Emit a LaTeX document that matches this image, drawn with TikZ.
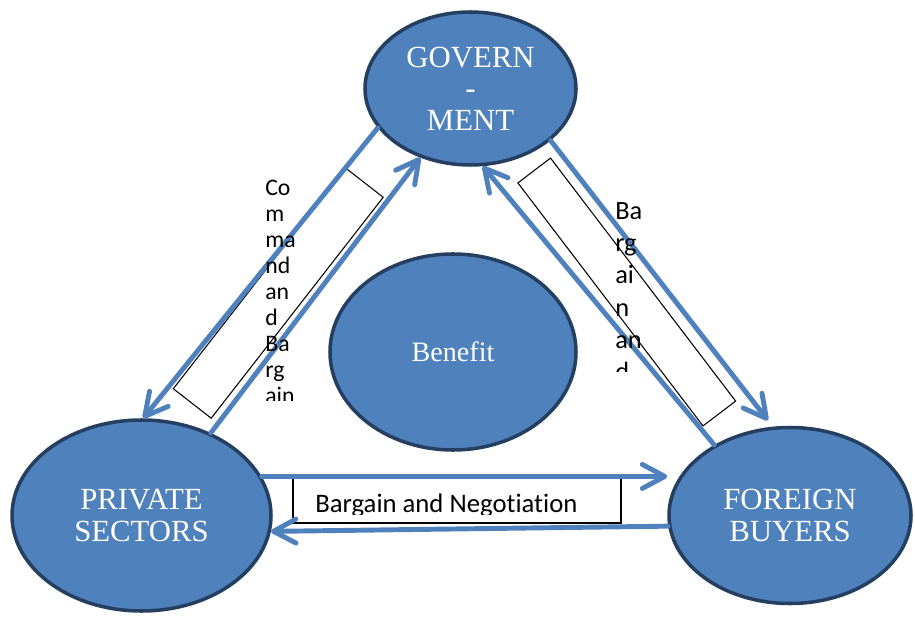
\documentclass[tikz,border=0pt]{standalone}
\usepackage{fontspec}
\setmainfont{Liberation Serif}
\newfontfamily\calibri{Carlito}[Ligatures=NoCommon]
\usetikzlibrary{shapes.geometric, arrows.meta}
\definecolor{fillblue}{HTML}{4F81BD}
\definecolor{edgeblue}{HTML}{243F60}
\tikzstyle{bubble} = [ellipse, draw=edgeblue, line width=2pt, fill=fillblue, text=white, align=center, font=\fontsize{17.5}{18}\selectfont, inner sep=0pt]
\tikzstyle{notebox} = [rectangle, draw=black, line width=0.6pt, inner sep=0pt]
\tikzstyle{notetext} = [inner sep=0pt, align=left, anchor=north west]
\tikzstyle{arrow} = [line width=2.8pt, draw=fillblue, line cap=round, -{Straight Barb[length=0.45cm, width=0.48cm, round]}]

\begin{document}
\begin{tikzpicture}[node distance=2cm]
\useasboundingbox (0,0) rectangle (18.3,12.32);
% label boxes
\node (cmdbox) [notebox, minimum width=5.6cm, minimum height=0.96cm, rotate=52.1] at (5.565,6.46) {};
\node (barbox) [notebox, minimum width=6.11cm, minimum height=0.82cm, rotate=-52.7] at (12.535,6.48) {};
\node (negbox) [notebox, minimum width=6.56cm, minimum height=0.9cm] at (9.14,2.31) {};

% the actors
\node (gov) [bubble, minimum width=4.22cm, minimum height=3.06cm] at (9.41,10.55) {GOVERN\\-\\MENT};
\node (ben) [bubble, minimum width=4.92cm, minimum height=3.92cm, font=\fontsize{16}{18}\selectfont, below of=gov, xshift=-0.35cm, yshift=-3.27cm] {Benefit};
\node (priv) [bubble, minimum width=5.18cm, minimum height=3.82cm, left of=ben, xshift=-4.23cm, yshift=-3.27cm] {PRIVATE\\SECTORS};
\node (fb) [bubble, minimum width=4.84cm, minimum height=3.52cm, right of=priv, xshift=10.97cm] {FOREIGN\\BUYERS};

\draw [arrow] (gov.203.8) -- (priv.89);
\draw [arrow] (priv.50.7) -- (gov.234.5);
\draw [arrow, shorten >=0.16cm] (gov.327.7) -- (fb.101.6);
\draw [arrow] (fb.137.6) -- (gov.279.9);
\draw [arrow] (priv.18) -- (priv.18 -| fb.west);
\draw [arrow] (fb.185.6) -- (priv.353);

% box texts, cut off at the box edge
\begin{scope}
\clip (0,4.32) rectangle (18.3,12.32);
\node (cmdtext) [notetext, font=\calibri\fontsize{13.5}{14.8}\selectfont] at (5.3,8.72) {Co\\m\\ma\\nd\\an\\d\\Ba\\rg\\ain};
\end{scope}
\begin{scope}
\clip (0,4.9) rectangle (18.3,12.32);
\node (bartext) [notetext, font=\calibri\fontsize{15}{18.4}\selectfont] at (12.3,8.28) {Ba\\rg\\ai\\n\\an\\d};
\end{scope}
\begin{scope}
\clip (0,2.04) rectangle (18.3,12.32);
\node (negtext) [notetext, anchor=base west, font=\calibri\fontsize{15.2}{16}\selectfont] at (6.3,2.08) {Bargain and Negotiation};
\end{scope}
\end{tikzpicture}
\end{document}
